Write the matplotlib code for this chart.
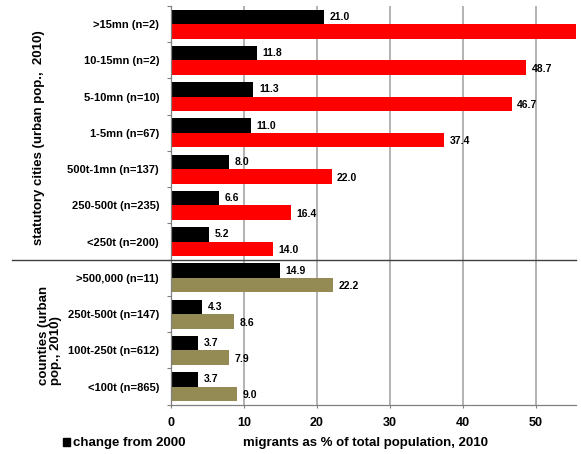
import matplotlib
matplotlib.use('Agg')
import matplotlib.pyplot as plt
import matplotlib.transforms as mtransforms
from matplotlib.lines import Line2D
from matplotlib.patches import Rectangle
import numpy as np

plt.rcParams['font.family'] = ['Liberation Sans', 'DejaVu Sans']
plt.rcParams['font.weight'] = 'bold'

# city size classes, statutory cities first, then counties
categories = ['>15mn (n=2)', '10-15mn (n=2)', '5-10mn (n=10)', '1-5mn (n=67)',
              '500t-1mn (n=137)', '250-500t (n=235)', '<250t (n=200)',
              '>500,000 (n=11)', '250t-500t (n=147)', '100t-250t (n=612)',
              '<100t (n=865)']
change_2000 = [21.0, 11.8, 11.3, 11.0, 8.0, 6.6, 5.2, 14.9, 4.3, 3.7, 3.7]
migrants_2010 = [57.0, 48.7, 46.7, 37.4, 22.0, 16.4, 14.0, 22.2, 8.6, 7.9, 9.0]
n_cities = 7   # first 7 rows are statutory cities
xticks = [0, 10, 20, 30, 40, 50]

RED = '#ff0000'
OLIVE = '#948a54'
colors = [RED] * n_cities + [OLIVE] * (len(categories) - n_cities)

fig = plt.figure(figsize=(5.81, 4.54), dpi=100)
ax = fig.add_axes([171 / 581, 1 - 404.7 / 454, 405 / 581, 398.7 / 454])

y = np.arange(len(categories))
h = 0.4
ax.barh(y - h / 2, change_2000, height=h, color='black', zorder=2)
ax.barh(y + h / 2, migrants_2010, height=h, color=colors, zorder=2)

xmax = 55.5
ax.set_xlim(0, xmax)
ax.set_ylim(len(categories) - 0.5, -0.5)

# value labels
for yi, v in zip(y, change_2000):
    ax.annotate(f'{v:.1f}', (v, yi - h / 2), xytext=(4, 0), textcoords='offset points',
                va='center', ha='left', fontsize=7.5, fontweight='bold')
for yi, v in zip(y, migrants_2010):
    if v < xmax:
        ax.annotate(f'{v:.1f}', (v, yi + h / 2), xytext=(4, -1), textcoords='offset points',
                    va='center', ha='left', fontsize=7.5, fontweight='bold')

# axes styling
ax.set_xticks(xticks)
ax.set_xticklabels([str(t) for t in xticks], fontsize=9, fontweight='bold')
ax.set_yticks(y)
ax.set_yticklabels(categories, fontsize=8, fontweight='bold')
ax.set_yticks(np.arange(-0.5, len(categories), 1), minor=True)
ax.tick_params(axis='y', which='major', length=0, pad=8.6)
ax.tick_params(axis='y', which='minor', length=3, color='#808080', width=0.8)
ax.tick_params(axis='x', length=2.5, color='#808080', width=0.8, pad=6)
ax.grid(axis='x', color='#a6a6a6', linewidth=1.2, zorder=0)
ax.set_axisbelow(True)
for side in ['top', 'right']:
    ax.spines[side].set_visible(False)
for side in ['left', 'bottom']:
    ax.spines[side].set_color('#808080')
    ax.spines[side].set_linewidth(0.9)

# divider between statutory cities and counties
trans = mtransforms.blended_transform_factory(fig.transFigure, ax.transData)
fig.add_artist(Line2D([12 / 581, 576 / 581], [n_cities - 0.5, n_cities - 0.5],
                      transform=trans, color='#404040', linewidth=1.0))

# group labels
fig.text(39 / 581, 1 - 138 / 454, 'statutory cities (urban pop.,  2010)', rotation=90,
         ha='center', va='center', fontsize=9.5, fontweight='bold')
fig.text(49.5 / 581, 1 - 335 / 454, 'counties (urban\npop., 2010)', rotation=90,
         ha='center', va='center', fontsize=9.5, fontweight='bold', linespacing=1.0,
         multialignment='left')

# legend row
fig.add_artist(Rectangle((62.7 / 581, 1 - 445.7 / 454), 6.8 / 581, 7.4 / 454,
                         transform=fig.transFigure, color='black'))
fig.text(73 / 581, 1 - 446 / 454, 'change from 2000', ha='left', va='baseline',
         fontsize=9.5, fontweight='bold')
fig.text(243 / 581, 1 - 446 / 454, 'migrants as % of total population, 2010', ha='left',
         va='baseline', fontsize=9.5, fontweight='bold')

fig.savefig('out.png', dpi=100)
